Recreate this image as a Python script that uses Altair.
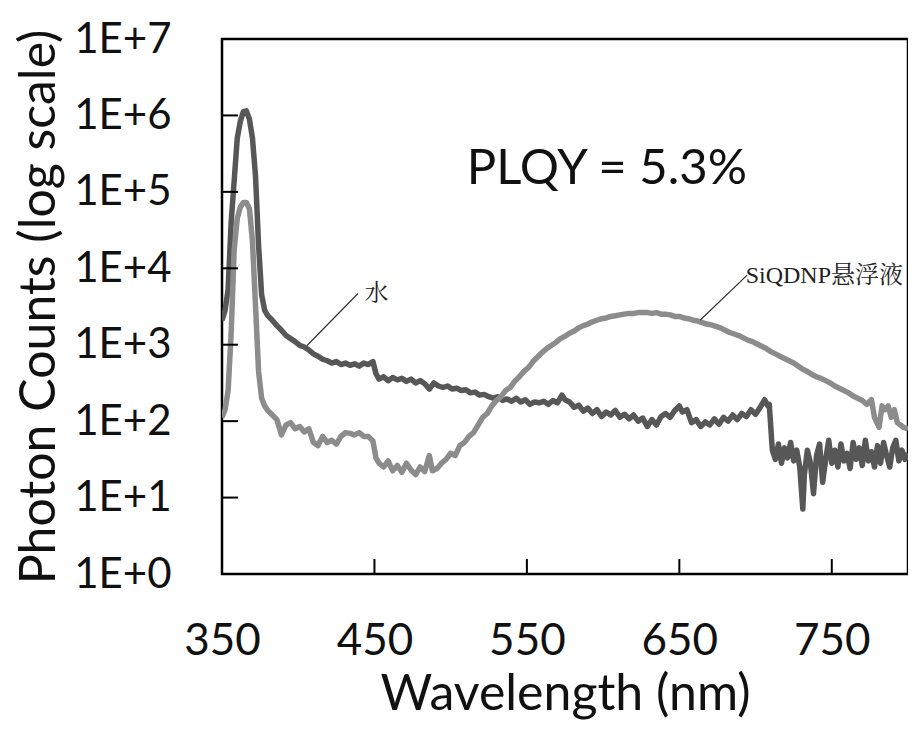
import altair as alt
import pandas as pd

# ---- data (log10 of photon counts) ----
water_nm = [350, 352, 354, 356, 358, 360, 362, 364, 366, 368, 370, 372, 374, 376, 378, 380,
            383, 386, 389, 392, 395, 398, 401, 404, 407, 410, 413, 416, 419, 422, 425, 428,
            431, 434, 437, 440, 443, 446, 449, 451, 453, 456, 459, 462, 465, 468, 471, 474,
            477, 480, 483, 486, 489, 492, 495, 498, 501, 504, 507, 510, 513, 516, 519, 522,
            525, 528, 531, 534, 537, 540, 543, 546, 549, 552, 555, 558, 561, 564, 567, 570,
            573, 575, 578, 581, 584, 587, 590, 593, 596, 599, 602, 605, 608, 611, 614, 617,
            620, 623, 626, 629, 632, 635, 638, 641, 644, 647, 650, 652, 655, 658, 661, 664,
            667, 670, 673, 676, 679, 682, 685, 688, 691, 694, 697, 700, 703, 706, 708, 709,
            711, 713, 715, 717, 719, 721, 723, 725, 727, 729, 731, 732, 734, 736, 738, 740,
            742, 744, 746, 748, 750, 752, 754, 756, 758, 760, 762, 764, 766, 768, 770, 772,
            774, 776, 778, 780, 782, 784, 786, 788, 790, 792, 794, 796, 798, 800]
water_log = [3.32, 3.45, 3.72, 4.60, 5.15, 5.70, 5.92, 6.05, 6.06, 5.95, 5.70, 5.20, 4.30, 3.65, 3.45, 3.38,
             3.32, 3.25, 3.19, 3.12, 3.08, 3.04, 2.99, 2.97, 2.93, 2.88, 2.85, 2.81, 2.79, 2.76, 2.78, 2.74,
             2.76, 2.73, 2.75, 2.72, 2.76, 2.74, 2.78, 2.62, 2.55, 2.58, 2.53, 2.57, 2.54, 2.56, 2.52, 2.55,
             2.50, 2.53, 2.49, 2.42, 2.50, 2.46, 2.44, 2.46, 2.42, 2.43, 2.40, 2.41, 2.37, 2.38, 2.34, 2.35,
             2.32, 2.30, 2.32, 2.27, 2.29, 2.26, 2.30, 2.25, 2.28, 2.22, 2.25, 2.24, 2.26, 2.22, 2.27, 2.24,
             2.34, 2.28, 2.25, 2.18, 2.21, 2.13, 2.17, 2.10, 2.15, 2.06, 2.12, 2.08, 2.14, 2.05, 2.09, 2.03,
             2.08, 2.00, 2.04, 1.93, 2.02, 1.95, 2.06, 2.10, 2.05, 2.14, 2.20, 2.12, 2.15, 1.98, 2.02, 1.93,
             1.99, 1.95, 2.03, 1.96, 2.05, 2.00, 2.08, 2.02, 2.10, 2.06, 2.15, 2.09, 2.18, 2.28, 2.20, 2.22,
             1.62, 1.50, 1.70, 1.45, 1.65, 1.52, 1.72, 1.48, 1.62, 1.40, 0.85, 1.30, 1.62, 1.45, 1.05, 1.55,
             1.70, 1.20, 1.50, 1.75, 1.45, 1.62, 1.40, 1.70, 1.48, 1.58, 1.38, 1.72, 1.50, 1.65, 1.42, 1.75,
             1.48, 1.60, 1.40, 1.68, 1.45, 1.72, 1.55, 1.40, 1.65, 1.75, 1.48, 1.62, 1.50, 1.58]

sinp_nm = [350, 352, 354, 356, 358, 360, 362, 364, 366, 368, 370, 372, 374, 376, 378, 380,
           383, 386, 389, 392, 395, 398, 401, 404, 407, 410, 413, 416, 419, 422, 425, 428,
           431, 434, 437, 440, 443, 446, 449, 451, 453, 456, 459, 462, 465, 468, 471, 474,
           477, 480, 483, 486, 488, 491, 494, 497, 500, 503, 506, 509, 512, 515, 518, 521,
           524, 527, 530, 533, 536, 539, 542, 545, 548, 551, 554, 557, 560, 563, 566, 569,
           572, 575, 578, 581, 584, 587, 590, 593, 596, 599, 602, 605, 608, 611, 614, 617,
           620, 623, 626, 629, 632, 635, 638, 641, 644, 647, 650, 653, 656, 659, 662, 665,
           668, 671, 674, 677, 680, 683, 686, 689, 692, 695, 698, 701, 704, 707, 710, 713,
           716, 719, 722, 725, 728, 731, 734, 737, 740, 743, 746, 749, 752, 755, 758, 761,
           764, 767, 770, 773, 776, 778, 781, 783, 785, 787, 789, 791, 793, 795, 797, 800]
sinp_log = [2.05, 2.15, 2.40, 3.15, 4.25, 4.65, 4.80, 4.86, 4.86, 4.78, 4.35, 3.50, 2.65, 2.30, 2.20, 2.14,
            2.08, 2.02, 1.82, 1.95, 1.98, 1.90, 1.93, 1.86, 1.90, 1.72, 1.68, 1.80, 1.72, 1.75, 1.70, 1.80,
            1.85, 1.84, 1.82, 1.85, 1.80, 1.80, 1.74, 1.52, 1.45, 1.40, 1.48, 1.35, 1.42, 1.33, 1.45, 1.36,
            1.30, 1.40, 1.34, 1.55, 1.35, 1.38, 1.45, 1.50, 1.58, 1.55, 1.68, 1.72, 1.80, 1.85, 1.95, 2.05,
            2.10, 2.20, 2.27, 2.32, 2.40, 2.44, 2.52, 2.58, 2.65, 2.70, 2.78, 2.84, 2.90, 2.95, 2.99, 3.03,
            3.08, 3.11, 3.15, 3.18, 3.22, 3.25, 3.27, 3.30, 3.32, 3.34, 3.35, 3.37, 3.38, 3.39, 3.40, 3.41,
            3.41, 3.42, 3.42, 3.42, 3.41, 3.42, 3.40, 3.40, 3.39, 3.37, 3.37, 3.35, 3.34, 3.32, 3.31, 3.29,
            3.27, 3.26, 3.24, 3.22, 3.19, 3.16, 3.14, 3.12, 3.09, 3.06, 3.04, 3.01, 2.98, 2.95, 2.91, 2.88,
            2.85, 2.82, 2.79, 2.76, 2.72, 2.68, 2.65, 2.61, 2.58, 2.56, 2.53, 2.50, 2.46, 2.43, 2.40, 2.37,
            2.33, 2.30, 2.27, 2.22, 2.28, 2.05, 1.92, 2.20, 2.15, 2.20, 2.05, 2.15, 1.98, 1.95, 1.92, 1.90]

series_names = ["水", "SiQDNP悬浮液"]
series_colors = ["#575757", "#8c8c8c"]

x_ticks = [350, 450, 550, 650, 750]
y_ticks = [0, 1, 2, 3, 4, 5, 6, 7]

# annotations (data coordinates: nm, log10 counts)
lead_x = [405.8, 663.6]
lead_x2 = [439.2, 694.5]
lead_y = [2.99, 3.32]
lead_y2 = [3.67, 3.91]
lbl_text = ["水", "SiQDNP悬浮液"]
lbl_x = [443.5, 693.5]
lbl_y = [3.66, 3.90]
plqy_text = ["PLQY = 5.3%"]
plqy_x = [602.5]
plqy_y = [5.30]

# ---- tables ----
df = pd.concat([
    pd.DataFrame({"nm": water_nm, "log": water_log, "series": series_names[0]}),
    pd.DataFrame({"nm": sinp_nm, "log": sinp_log, "series": series_names[1]}),
])
xt = pd.DataFrame({"nm": x_ticks})
yt = pd.DataFrame({"log": y_ticks})
leads = pd.DataFrame({"nm": lead_x, "nm2": lead_x2, "log": lead_y, "log2": lead_y2})
lbls = pd.DataFrame({"nm": lbl_x, "log": lbl_y, "t": lbl_text})
plqy = pd.DataFrame({"nm": plqy_x, "log": plqy_y, "t": plqy_text})

W, H = 686, 535
FONT = "Lato"

xscale = alt.Scale(domain=[350, 800], nice=False, zero=False)
yscale = alt.Scale(domain=[0, 7], nice=False, zero=False)
xaxis = alt.Axis(values=x_ticks, title="Wavelength (nm)", tickSize=0, labelPadding=45,
                 domain=False, grid=False, labelFontSize=44, titleFontSize=50,
                 labelFont=FONT, titleFont=FONT, labelColor="#111", titleColor="#111",
                 titleFontWeight="normal", titlePadding=6, format="d", labelFlush=False)
yaxis = alt.Axis(values=y_ticks, title="Photon Counts (log scale)", tickSize=0,
                 labelPadding=51, domain=False, grid=False, labelFontSize=42,
                 titleFontSize=50, labelFont=FONT, titleFont=FONT, labelColor="#111",
                 titleColor="#111", titleFontWeight="normal", titlePadding=9,
                 labelExpr="'1E+' + datum.value", labelFlush=False)

X = alt.X("nm:Q", scale=xscale, axis=xaxis)
Y = alt.Y("log:Q", scale=yscale, axis=yaxis)

lines = alt.Chart(df).mark_line(strokeWidth=5.5, strokeJoin="round", clip=True).encode(
    x=X, y=Y,
    color=alt.Color("series:N", scale=alt.Scale(domain=series_names, range=series_colors), legend=None),
    order=alt.Order("nm:Q"),
)

xtick_rules = alt.Chart(xt).mark_rule(color="black", strokeWidth=2).encode(
    x=X, y=alt.value(H), y2=alt.value(H - 15))
ytick_rules = alt.Chart(yt).mark_rule(color="black", strokeWidth=2).encode(
    y=Y, x=alt.value(0), x2=alt.value(16))

lead_rules = alt.Chart(leads).mark_rule(color="#333", strokeWidth=1.2).encode(
    x=X, x2="nm2:Q", y=Y, y2="log2:Q")

lbl_marks = alt.Chart(lbls).mark_text(
    align="left", baseline="middle", fontSize=24,
    font="Liberation Serif, Noto Serif CJK SC, Noto Sans CJK SC", color="#222").encode(
    x=X, y=Y, text="t:N")

plqy_mark = alt.Chart(plqy).mark_text(
    align="center", baseline="middle", fontSize=49, font=FONT, color="#111").encode(
    x=X, y=Y, text="t:N")

chart = alt.layer(lines, xtick_rules, ytick_rules, lead_rules, lbl_marks, plqy_mark).properties(
    width=W, height=H, background="white",
    autosize=alt.AutoSizeParams(type="none"),
    padding={"left": 214, "top": 31, "right": 0, "bottom": 147},
).configure_view(stroke="black", strokeWidth=2.5)

chart.save("out.html", embed_options={"renderer": "svg", "actions": False})
